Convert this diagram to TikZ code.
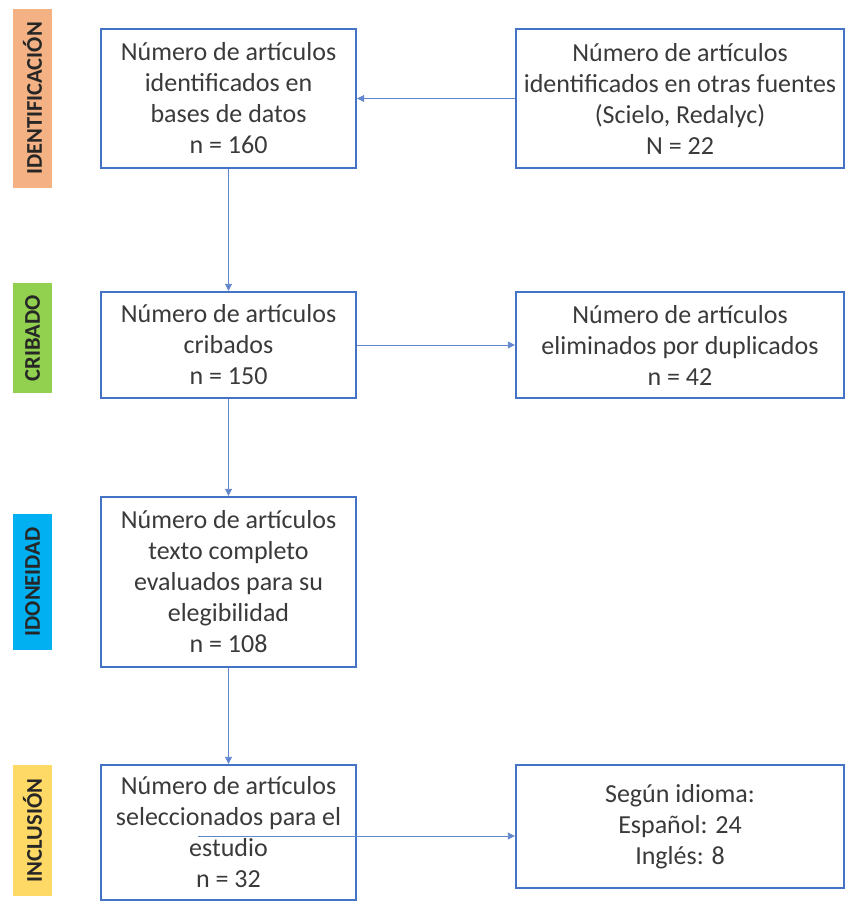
\documentclass[tikz,border=0pt]{standalone}
\usepackage{fontspec}
\setmainfont{Carlito}
\usepackage{xcolor}
\usetikzlibrary{arrows.meta,positioning}
\definecolor{frame}{HTML}{4472C4}
\definecolor{ink}{HTML}{3A3A3A}
\definecolor{ident}{HTML}{F4B183}
\definecolor{crib}{HTML}{92D050}
\definecolor{idon}{HTML}{00B0F0}
\definecolor{incl}{HTML}{FFD966}

\begin{document}
\begin{tikzpicture}[x=1pt,y=-1pt,>={Triangle[length=7pt,width=7pt]},
  every node/.style={inner sep=0pt},
  box/.style={draw=frame,line width=2.4pt,align=center,text=ink,
    font=\fontsize{26}{31}\selectfont},
  stage/.style={rotate=90,minimum height=39,text=black!85,
    font=\fontsize{22.5}{24}\selectfont\bfseries},
  link/.style={->,frame!85,line width=0.9pt}]
\useasboundingbox (0,0) rectangle (846,902);
% phase labels on the left
\node[stage,fill=ident,minimum width=179] (sid) at (32.5,98.5) {IDENTIFICACIÓN};
\node[stage,fill=crib,minimum width=110] (scr) at (32.5,338) {CRIBADO};
\node[stage,fill=idon,minimum width=136] (sdo) at (32.5,582) {IDONEIDAD};
\node[stage,fill=incl,minimum width=131] (sin) at (32.5,830.5) {INCLUSIÓN};
% main column
\node[box,minimum width=255,minimum height=139] (bases) at (228.5,98.5)
  {Número de artículos\\identificados en\\bases de datos\\n = 160};
\node[box,minimum width=255,minimum height=106] (crib) at (228.5,345)
  {Número de artículos\\cribados\\n = 150};
\node[box,minimum width=255,minimum height=170] (eleg) at (228.5,582)
  {Número de artículos\\texto completo\\evaluados para su\\elegibilidad\\n = 108};
\node[box,minimum width=255,minimum height=135] (sel) at (228.5,832.5)
  {Número de artículos\\seleccionados para el\\estudio\\n = 32};
% right column
\node[box,minimum width=328,minimum height=139] (otras) at (680,98.5)
  {Número de artículos\\identificados en otras fuentes\\(Scielo, Redalyc)\\N = 22};
\node[box,minimum width=328,minimum height=106] (dupl) at (680,345)
  {Número de artículos\\eliminados por duplicados\\n = 42};
\node[box,minimum width=328,minimum height=123] (idioma) at (680,826.5)
  {Según idioma:\\Español: 24\\Inglés: 8};
% connectors
\draw[link] (otras.west) -- (bases.east);
\draw[link] (bases.south) -- (crib.north);
\draw[link] (crib.east) -- (dupl.west);
\draw[link] (crib.south) -- (eleg.north);
\draw[link] (eleg.south) -- (sel.north);
\coordinate (selout) at (198,836);
\draw[link] (selout) -- (selout -| idioma.west);
\end{tikzpicture}
\end{document}
